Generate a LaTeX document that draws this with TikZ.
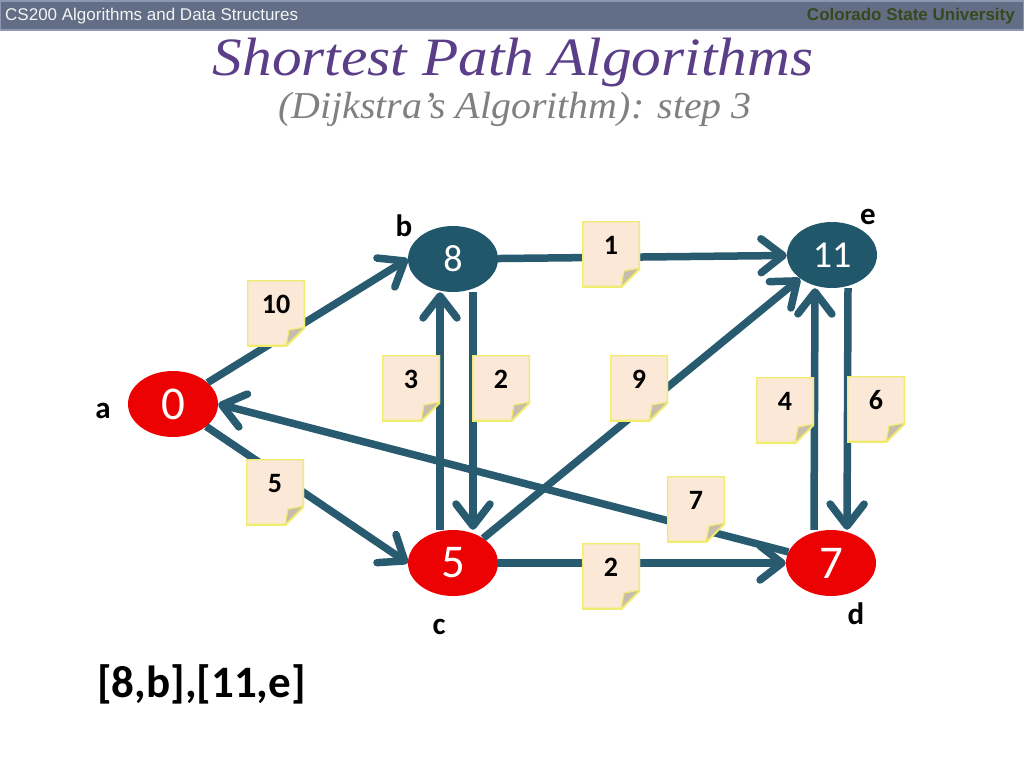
\documentclass[tikz,border=0pt]{standalone}
\usepackage{fontspec}
\newfontfamily\calib{Carlito}
\newfontfamily\arial{Liberation Sans}
\newfontfamily\serifttl{Liberation Serif}
\usetikzlibrary{shapes.geometric,arrows.meta}

\definecolor{bandeau}{RGB}{98,110,134}
\definecolor{bandeauclair}{RGB}{140,152,176}
\definecolor{csuvert}{RGB}{55,72,28}
\definecolor{violet}{RGB}{90,62,136}
\definecolor{sommetbleu}{RGB}{33,87,107}
\definecolor{arcbleu}{RGB}{40,91,111}
\definecolor{sommetrouge}{RGB}{236,2,2}
\definecolor{papier}{RGB}{251,232,215}
\definecolor{bordpapier}{RGB}{240,236,112}
\definecolor{pli}{RGB}{200,188,170}

\begin{document}
\begin{tikzpicture}[x=1pt,y=-1pt,
  sommet/.style={ellipse,minimum width=90pt,minimum height=66pt,inner sep=0pt,text=white},
  rouge/.style={sommet,fill=sommetrouge,font=\calib\fontsize{47}{47}\selectfont},
  bleu/.style={sommet,fill=sommetbleu,font=\calib\fontsize{38}{38}\selectfont},
  arc/.style={line width=7.5pt,draw=arcbleu,-{Straight Barb[round,length=22pt,width=34pt]}},
  lettre/.style={anchor=base,font=\calib\bfseries\fontsize{31}{31}\selectfont},
  poids/.style={rectangle,minimum width=58pt,minimum height=66pt,inner sep=0pt,
    text height=20pt,text depth=20pt,font=\calib\bfseries\fontsize{28}{28}\selectfont,
    path picture={
      \filldraw[fill=papier,draw=bordpapier,line width=2.6pt,line join=round]
        (path picture bounding box.north west) -- (path picture bounding box.north east)
        -- ([yshift=19pt]path picture bounding box.south east)
        -- ([xshift=-19pt]path picture bounding box.south east)
        -- (path picture bounding box.south west) -- cycle;
      \filldraw[fill=pli,draw=bordpapier,line width=1.2pt,line join=round]
        ([yshift=19pt]path picture bounding box.south east)
        -- ([xshift=-19pt]path picture bounding box.south east)
        -- ([xshift=-16pt,yshift=16pt]path picture bounding box.south east) -- cycle;
    }}]
\useasboundingbox (0,0) rectangle (1024,768);

% Bandeau
  \filldraw[fill=bandeau,draw=bandeauclair,line width=2pt] (0,1) rectangle (1024,30);
  \node[anchor=base west,text=white!92!bandeau,font=\arial\fontsize{17}{17}\selectfont,inner sep=0pt] (cours) at (5,21) {CS200 Algorithms and Data Structures};
  \node[anchor=base east,text=csuvert,font=\arial\bfseries\fontsize{17}{17}\selectfont,inner sep=0pt] (univ) at (1015,21) {Colorado State University};

% Titre
  \node[anchor=base,xscale=1.1,text=violet,font=\serifttl\fontsize{54}{54}\selectfont\itshape,inner sep=0pt] (titre) at (513,75) {Shortest Path Algorithms};
  \node[anchor=base,xscale=1.05,text=black!50,font=\serifttl\fontsize{38}{38}\selectfont\itshape,inner sep=0pt] (soustitre) at (515,118) {(Dijkstra’s Algorithm): step 3};

% Sommets
  \node[rouge] (a) at (173,404) {0};
  \node[bleu] (b) at (453,259) {8};
  \node[rouge] (c) at (453,563) {5};
  \node[rouge] (d) at (831,563) {7};
  \node[bleu] (e) at (832,255) {11};

  \foreach \nom/\pos in {a/{103,418},b/{404,236},c/{439,634},d/{856,624},e/{868,224}}
    \node[lettre] (l\nom) at (\pos) {\nom};

% Arcs
  \foreach \de/\vers in {a/b.west,a/c.west,b/e,c/e.south west,c/d,d/a.east}
    \draw[arc] (\de) -- (\vers);
  \draw[arc] ([xshift=-13pt]c.north) -- ([xshift=-13pt]b.south);
  \draw[arc] ([xshift=20pt]b.south) -- ([xshift=20pt]c.north);
  \draw[arc] ([xshift=-17pt]d.north) -- ([xshift=-17pt]e.south);
  \draw[arc] ([xshift=16pt]e.south) -- ([xshift=16pt]d.north);

% Poids
  \foreach \nom/\pos/\val in {pab/{276,313}/10,pcb/{411,388}/3,pbc/{501,388}/2,
      pce/{639,388}/9,pbe/{611,254}/1,pde/{785,410}/4,ped/{876,409}/6,
      pac/{275,492}/5,pda/{696,509}/7,pcd/{611,576}/2}
    \node[poids] (\nom) at (\pos) {\val};

% Liste
  \node[anchor=base west,inner sep=0pt,font=\calib\bfseries\fontsize{45}{45}\selectfont] (liste) at (97,697) {[8,b],[11,e]};

\end{tikzpicture}
\end{document}
